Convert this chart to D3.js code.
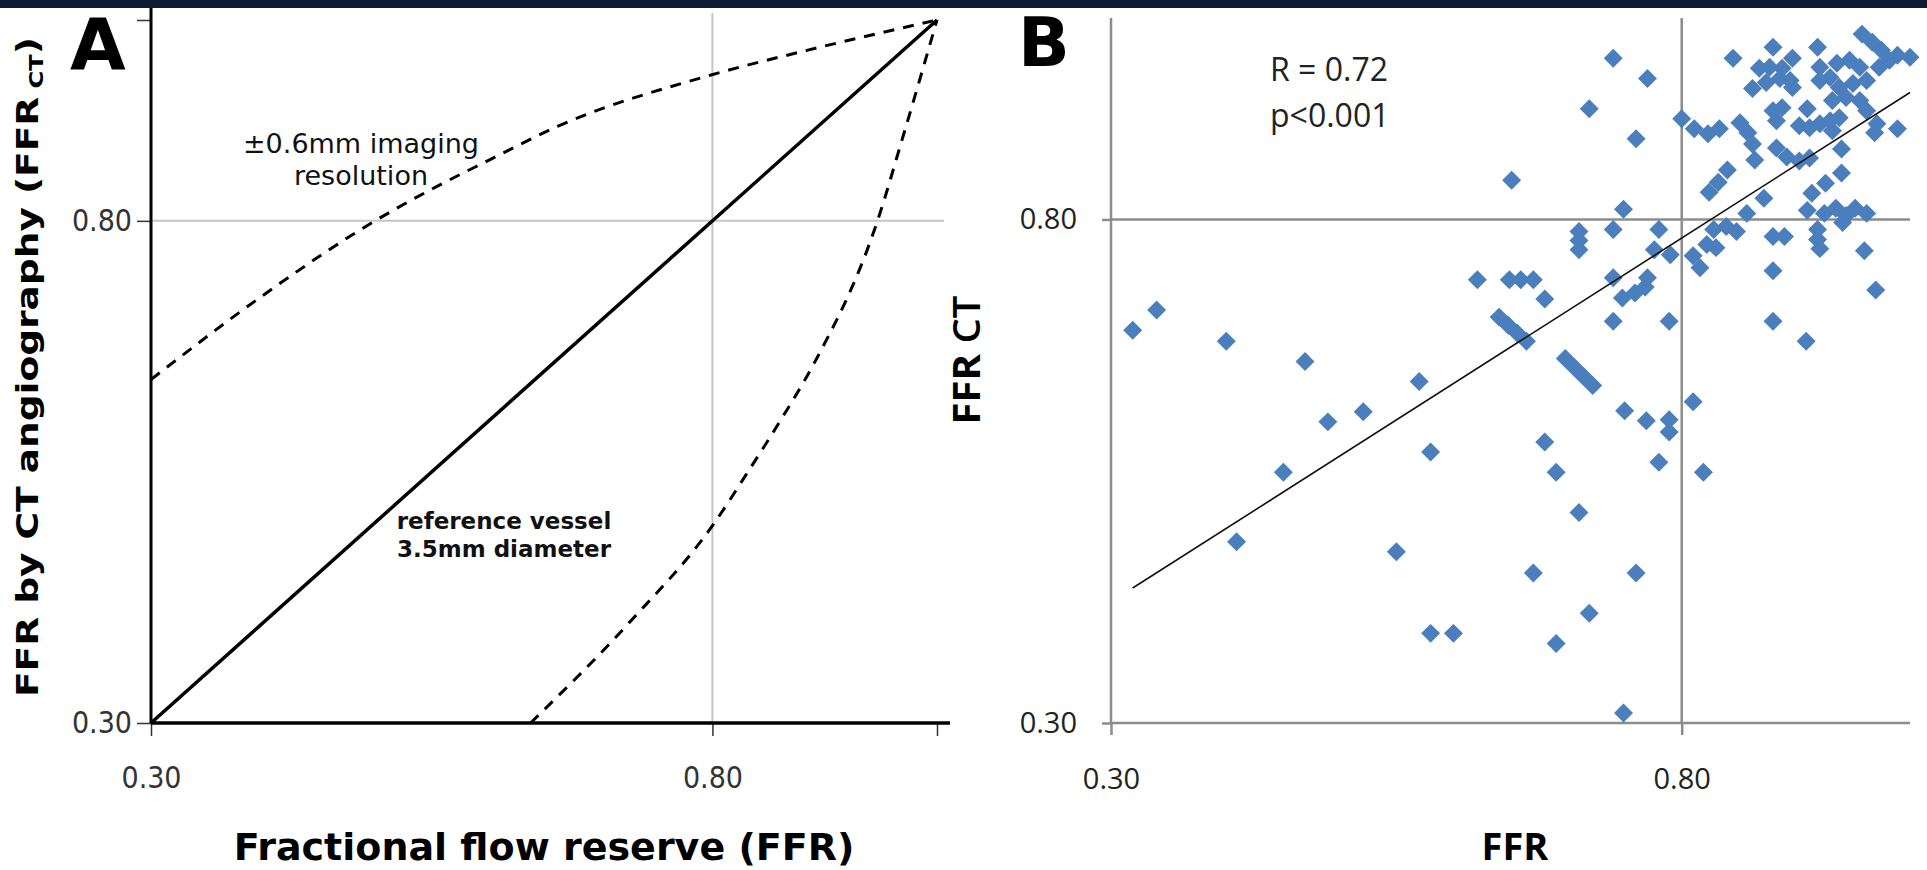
<!DOCTYPE html>
<html lang="en">
<head>
<meta charset="utf-8">
<style>
  body { margin: 0; background: #fff; }
  .a-text { font-family: "DejaVu Sans", sans-serif; }
  .b-text { font-family: "Open Sans", sans-serif; }
</style>
</head>
<body>
<script src="https://cdn.jsdelivr.net/npm/d3@7"></script>
<script>
// ---- panel A : model curves (FFR vs FFRct)
const refX = [0.30, 1.00];
const refY = [0.30, 1.00];
const upperX = [0.30, 0.40, 0.498, 0.549, 0.602, 0.662, 0.798, 0.885, 1.00];
const upperY = [0.642, 0.726, 0.799, 0.831, 0.861, 0.894, 0.945, 0.970, 1.00];
const lowerX = [0.638, 0.726, 0.801, 0.831, 0.861, 0.890, 0.947, 0.970, 1.00];
const lowerY = [0.30, 0.40, 0.498, 0.549, 0.602, 0.657, 0.800, 0.885, 1.00];

const tickVals = [0.30, 0.80, 1.00];
const tickLabels = ["0.30", "0.80", ""];

// ---- panel B : measured FFR vs FFRct
const ffr = [
  0.319, 0.340, 0.401, 0.470, 0.570, 0.490, 0.521, 0.580, 0.451, 0.410, 0.550, 0.580, 0.600,
  0.970, 0.880, 0.909, 0.789, 0.740, 0.680, 0.810, 0.819, 0.750, 0.769, 0.789, 0.789, 0.780,
  0.680, 0.690, 0.710, 0.670, 0.760, 0.719, 0.690, 0.749,
  0.698, 0.706, 0.714, 0.722, 0.640, 0.648, 0.656, 0.664,
  0.621, 0.649, 0.659, 0.670, 0.740, 0.748, 0.759, 0.768, 0.770,
  0.710, 0.710, 0.710, 0.740, 0.749, 0.780, 0.776, 0.790, 0.651, 0.740, 0.770, 0.719, 0.760,
  0.800, 0.811, 0.823, 0.833, 0.851, 0.858, 0.862, 0.864, 0.840, 0.832, 0.824, 0.857, 0.872,
  0.828, 0.839, 0.848, 0.830, 0.810, 0.816, 0.822, 0.880, 0.890, 0.880,
  0.919, 0.919, 0.921, 0.910, 0.960, 0.925, 0.935, 0.944, 0.952, 0.941, 0.962,
  0.914, 0.926, 0.940, 0.940, 0.883, 0.892, 0.903, 0.912,
  0.845, 0.880, 0.897, 0.888, 0.877, 0.868, 0.886, 0.874, 0.862, 0.895, 0.897, 0.919,
  0.921, 0.930, 0.921, 0.936, 0.947, 0.956, 0.938, 0.950, 0.962, 0.944, 0.956, 0.962, 0.932, 0.973, 0.982,
  0.958, 0.967, 0.975, 1.000, 0.989,
  0.880, 0.888, 0.883, 0.910, 0.903, 0.912, 0.921, 0.930, 0.938, 0.932, 0.971, 0.989, 0.969
];
const ffrCT = [
  0.690, 0.710, 0.679, 0.659, 0.639, 0.599, 0.609, 0.569, 0.549, 0.480, 0.470, 0.389, 0.389,
  0.730, 0.699, 0.679, 0.699, 0.699, 0.721, 0.619, 0.549, 0.610, 0.600, 0.601, 0.589, 0.559,
  0.579, 0.549, 0.509, 0.449, 0.449, 0.409, 0.379, 0.310,
  0.662, 0.653, 0.644, 0.635, 0.703, 0.695, 0.687, 0.679,
  0.740, 0.740, 0.740, 0.740, 0.742, 0.722, 0.727, 0.733, 0.742,
  0.788, 0.779, 0.770, 0.790, 0.810, 0.790, 0.770, 0.765, 0.839, 0.960, 0.940, 0.910, 0.880,
  0.900, 0.890, 0.885, 0.890, 0.896, 0.886, 0.875, 0.859, 0.849, 0.837, 0.827, 0.806, 0.821,
  0.790, 0.793, 0.788, 0.772, 0.764, 0.752, 0.775, 0.783, 0.783, 0.749,
  0.790, 0.780, 0.771, 0.809, 0.769, 0.806, 0.811, 0.804, 0.811, 0.797, 0.806,
  0.826, 0.836, 0.846, 0.870, 0.871, 0.862, 0.858, 0.861,
  0.960, 0.971, 0.960, 0.950, 0.951, 0.950, 0.940, 0.936, 0.930, 0.938, 0.931, 0.971,
  0.951, 0.941, 0.938, 0.955, 0.958, 0.951, 0.931, 0.935, 0.938, 0.921, 0.918, 0.908, 0.918, 0.951, 0.958,
  0.984, 0.976, 0.968, 0.961, 0.963,
  0.908, 0.911, 0.898, 0.910, 0.893, 0.891, 0.895, 0.898, 0.901, 0.888, 0.895, 0.890, 0.886
];
// regression line end points
const trendX = [0.319, 1.00];
const trendY = [0.434, 0.926];

var width = 1927, height = 870;

var svg = d3.select("body")
  .append("svg")
  .attr("width", width)
  .attr("height", height);

svg.append("rect").attr("width", width).attr("height", height).attr("fill", "#fff");
// dark strip along the top edge
svg.append("rect").attr("width", width).attr("height", 8).attr("fill", "#0c1a33");

const pairs = (xs, ys) => xs.map((x, i) => [x, ys[i]]);

// ================= Panel A =================
var xA = d3.scaleLinear().domain([0.3, 1.0]).range([151, 937]);
var yA = d3.scaleLinear().domain([0.3, 1.0]).range([723, 20]);

var gA = svg.append("g");

// light grid at 0.80
gA.append("line")
  .attr("x1", xA(0.8)).attr("x2", xA(0.8))
  .attr("y1", 13).attr("y2", yA(0.3))
  .attr("stroke", "#c6c6c6").attr("stroke-width", 2);
gA.append("line")
  .attr("x1", xA(0.3)).attr("x2", xA(1.0) + 7)
  .attr("y1", yA(0.8)).attr("y2", yA(0.8))
  .attr("stroke", "#c6c6c6").attr("stroke-width", 2);

var axAy = gA.append("g")
  .attr("class", "a-text")
  .attr("transform", "translate(" + xA(0.3) + ",0)")
  .call(d3.axisLeft(yA).tickValues(tickVals).tickSize(14).tickPadding(5)
    .tickFormat((d, i) => tickLabels[i]));
var axAx = gA.append("g")
  .attr("class", "a-text")
  .attr("transform", "translate(0," + yA(0.3) + ")")
  .call(d3.axisBottom(xA).tickValues(tickVals).tickSize(13).tickPadding(31)
    .tickFormat((d, i) => tickLabels[i]));

[axAy, axAx].forEach(ax => {
  ax.select(".domain").remove();
  ax.selectAll(".tick line").attr("stroke", "#333").attr("stroke-width", 1.5);
  ax.selectAll(".tick text")
    .attr("font-family", "DejaVu Sans Condensed, DejaVu Sans, sans-serif")
    .attr("font-size", 30).attr("fill", "#333");
});

// axis lines
gA.append("line")
  .attr("x1", xA(0.3)).attr("x2", xA(0.3))
  .attr("y1", 8).attr("y2", yA(0.3))
  .attr("stroke", "#000").attr("stroke-width", 3);
gA.append("line")
  .attr("x1", xA(0.3)).attr("x2", xA(1.0) + 13)
  .attr("y1", yA(0.3)).attr("y2", yA(0.3))
  .attr("stroke", "#000").attr("stroke-width", 3.5);

var lineA = d3.line()
  .x(d => xA(d[0]))
  .y(d => yA(d[1]))
  .curve(d3.curveMonotoneX);

gA.append("path")
  .datum(pairs(upperX, upperY))
  .attr("d", lineA)
  .attr("fill", "none").attr("stroke", "#000")
  .attr("stroke-width", 3).attr("stroke-dasharray", "11,9");
gA.append("path")
  .datum(pairs(lowerX, lowerY))
  .attr("d", lineA)
  .attr("fill", "none").attr("stroke", "#000")
  .attr("stroke-width", 3).attr("stroke-dasharray", "11,9");
gA.append("path")
  .datum(pairs(refX, refY))
  .attr("d", lineA)
  .attr("fill", "none").attr("stroke", "#000")
  .attr("stroke-width", 3.5);

// annotations
var note1 = gA.append("text").attr("class", "a-text")
  .attr("text-anchor", "middle").attr("font-size", 27).attr("fill", "#111");
note1.append("tspan").attr("x", 361).attr("y", 153).text("±0.6mm imaging");
note1.append("tspan").attr("x", 361).attr("y", 185).text("resolution");

var note2 = gA.append("text").attr("class", "a-text")
  .attr("text-anchor", "middle").attr("font-size", 23)
  .attr("font-weight", "bold").attr("fill", "#111");
note2.append("tspan").attr("x", 504).attr("y", 529).text("reference vessel");
note2.append("tspan").attr("x", 504).attr("y", 557).text("3.5mm diameter");

gA.append("text").attr("class", "a-text")
  .attr("x", 70).attr("y", 69)
  .attr("font-size", 72).attr("font-weight", "bold")
  .text("A");

gA.append("text").attr("class", "a-text")
  .attr("x", 544).attr("y", 860)
  .attr("text-anchor", "middle")
  .attr("font-size", 38).attr("font-weight", "bold")
  .text("Fractional flow reserve (FFR)");

var yTitleA = gA.append("text").attr("class", "a-text")
  .attr("transform", "translate(38,367) rotate(-90)")
  .attr("text-anchor", "middle")
  .attr("font-size", 31).attr("font-weight", "bold")
  .attr("textLength", 660).attr("lengthAdjust", "spacingAndGlyphs");
yTitleA.append("tspan").text("FFR by CT angiography (FFR");
yTitleA.append("tspan").attr("font-size", 20).attr("dy", 5).text(" CT");
yTitleA.append("tspan").attr("dy", -5).text(")");

// ================= Panel B =================
var xB = d3.scaleLinear().domain([0.3, 1.0]).range([1111, 1910]);
var yB = d3.scaleLinear().domain([0.3, 1.0]).range([723, 18]);

var gB = svg.append("g");
var gridCol = "#8c8c8c";

var axBy = gB.append("g")
  .attr("class", "b-text")
  .attr("transform", "translate(" + xB(0.3) + ",0)")
  .call(d3.axisLeft(yB).tickValues([0.3, 0.8]).tickSize(9).tickPadding(25)
    .tickFormat(d3.format(".2f")));
var axBx = gB.append("g")
  .attr("class", "b-text")
  .attr("transform", "translate(0," + yB(0.3) + ")")
  .call(d3.axisBottom(xB).tickValues([0.3, 0.8]).tickSize(12).tickPadding(33)
    .tickFormat(d3.format(".2f")));

[axBy, axBx].forEach(ax => {
  ax.select(".domain").remove();
  ax.selectAll(".tick line").attr("stroke", gridCol).attr("stroke-width", 2.5);
  ax.selectAll(".tick text")
    .attr("font-family", "Open Sans, sans-serif")
    .attr("font-size", 29).attr("fill", "#222");
});

// grid + axes
gB.append("line")
  .attr("x1", xB(0.3)).attr("x2", xB(0.3))
  .attr("y1", yB(1.0)).attr("y2", yB(0.3))
  .attr("stroke", gridCol).attr("stroke-width", 2.5);
gB.append("line")
  .attr("x1", xB(0.8)).attr("x2", xB(0.8))
  .attr("y1", yB(1.0)).attr("y2", yB(0.3))
  .attr("stroke", gridCol).attr("stroke-width", 2.5);
gB.append("line")
  .attr("x1", xB(0.3)).attr("x2", xB(1.0))
  .attr("y1", yB(0.3)).attr("y2", yB(0.3))
  .attr("stroke", gridCol).attr("stroke-width", 2.5);
gB.append("line")
  .attr("x1", xB(0.3)).attr("x2", xB(1.0))
  .attr("y1", yB(0.8)).attr("y2", yB(0.8))
  .attr("stroke", gridCol).attr("stroke-width", 2.5);

var diamond = d3.symbol().type(d3.symbolSquare).size(180);

gB.selectAll("path.pt")
  .data(pairs(ffr, ffrCT))
  .enter()
  .append("path")
  .attr("class", "pt")
  .attr("d", diamond)
  .attr("transform", d => "translate(" + xB(d[0]) + "," + yB(d[1]) + ") rotate(45)")
  .attr("fill", "#4a7ebd");

gB.append("path")
  .datum(pairs(trendX, trendY))
  .attr("d", d3.line().x(d => xB(d[0])).y(d => yB(d[1])))
  .attr("fill", "none").attr("stroke", "#111").attr("stroke-width", 1.6);

var stats = gB.append("text").attr("class", "b-text")
  .attr("font-size", 32).attr("fill", "#222");
stats.append("tspan").attr("x", 1270).attr("y", 81).text("R = 0.72");
stats.append("tspan").attr("x", 1270).attr("y", 127).text("p<0.001");

gB.append("text").attr("class", "a-text")
  .attr("x", 1018).attr("y", 66)
  .attr("font-size", 68).attr("font-weight", "bold")
  .text("B");

gB.append("text").attr("class", "b-text")
  .attr("x", 1515).attr("y", 860)
  .attr("text-anchor", "middle")
  .attr("font-size", 38).attr("font-weight", "bold")
  .text("FFR");

var yTitleB = gB.append("text").attr("class", "b-text")
  .attr("transform", "translate(980,360) rotate(-90)")
  .attr("text-anchor", "middle")
  .attr("font-size", 38).attr("font-weight", "bold")
  .attr("textLength", 129).attr("lengthAdjust", "spacingAndGlyphs");
yTitleB.append("tspan").text("FFR ");
yTitleB.append("tspan").attr("font-weight", 600).text("CT");
</script>
</body>
</html>
